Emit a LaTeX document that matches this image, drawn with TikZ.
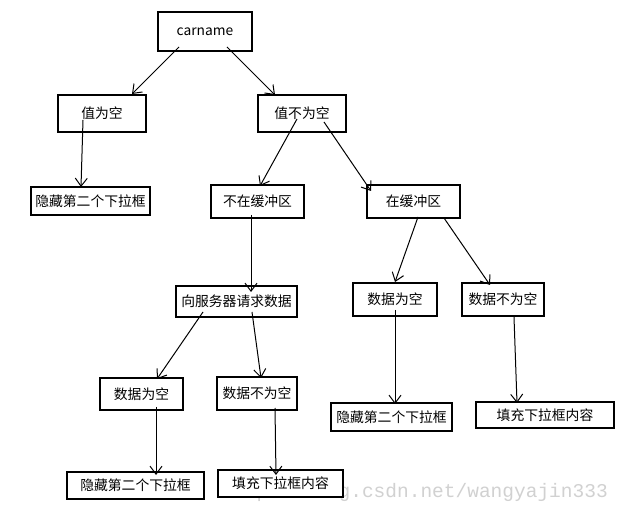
\documentclass[tikz,border=0pt]{standalone}
\usepackage{fontspec}
\newfontfamily\cjk{Noto Sans CJK SC}
\newfontfamily\wmfont{Liberation Mono}
\usetikzlibrary{calc, arrows.meta, positioning}
\tikzset{
  box/.style={draw, line width=1.2pt, fill=white, inner sep=0pt,
    font=\cjk\fontsize{13.8}{15}\selectfont},
  link/.style={line width=1pt, -{Straight Barb[length=8pt,width=12pt]}}
}

\begin{document}
\begin{tikzpicture}[x=1pt, y=-1pt]
    \useasboundingbox[fill=white] (0,0) rectangle (622,513);

    % --- Watermark ---
    \node[anchor=base east, text=black!18, font=\wmfont\fontsize{19.5}{20}\selectfont, inner sep=0pt]
      (mark) at (608,497) {http://blog.csdn.net/wangyajin333};

    % --- Boxes ---
    \node[box, minimum width=94pt, minimum height=39pt] (carname) at (205,31.5) {carname};

    \node[box, minimum width=88pt, minimum height=37pt] (kong) at (102,113.5) {值为空};
    \node[box, minimum width=88pt, minimum height=37pt] (bukong) at (302,113.5) {值不为空};

    \node[box, minimum width=119pt, minimum height=28pt] (hide1) at (90.5,201) {隐藏第二个下拉框};
    \node[box, minimum width=93pt, minimum height=33pt] (notbuf) at (257.5,201.5) {不在缓冲区};
    \node[box, minimum width=93pt, minimum height=33pt] (inbuf) at (413.5,201.5) {在缓冲区};

    \node[box, minimum width=121pt, minimum height=31pt] (request) at (236.5,301.5) {向服务器请求数据};
    \node[box, minimum width=84pt, minimum height=33pt] (nullR) at (395,299.5) {数据为空};
    \node[box, minimum width=82pt, minimum height=33pt] (notnullR) at (503,299.5) {数据不为空};

    \node[box, minimum width=83pt, minimum height=32pt] (nullL) at (141.5,394) {数据为空};
    \node[box, minimum width=80pt, minimum height=33pt] (notnullL) at (257,393.5) {数据不为空};
    \node[box, minimum width=121pt, minimum height=28pt] (hideR) at (391.5,417) {隐藏第二个下拉框};
    \node[box, minimum width=138pt, minimum height=26pt] (fillR) at (545,415) {填充下拉框内容};

    \node[box, minimum width=137pt, minimum height=27pt] (hideL) at (135.5,485.5) {隐藏第二个下拉框};
    \node[box, minimum width=125pt, minimum height=27pt] (fillL) at (280.5,483.5) {填充下拉框内容};

    % --- Arrows ---
    \draw[link] ($(carname)+(-26,15.5)$) -- ($(kong)+(30,-19.5)$);
    \draw[link] ($(carname)+(22,15.5)$) -- ($(bukong)+(-27,-18.5)$);

    \draw[link] ($(kong)+(-19,6.5)$) -- ($(hide1)+(-9.5,-14)$);
    \draw[link] ($(bukong)+(-5,5.5)$) -- ($(notbuf)+(2.5,-15.5)$);
    \draw[link] ($(bukong)+(22,8.5)$) -- ($(inbuf)+(-42.5,-10.5)$);

    \draw[link] ($(notbuf)+(-6.5,13.5)$) -- ($(request)+(14.5,-9.5)$);
    \draw[link] ($(inbuf)+(4.5,15.5)$) -- ($(nullR)+(0,-17.5)$);
    \draw[link] ($(inbuf)+(30.5,16.5)$) -- ($(notnullR)+(-13,-14.5)$);

    \draw[link] ($(request)+(-33.5,10.5)$) -- ($(nullL)+(15.5,-15)$);
    \draw[link] ($(request)+(15.5,10.5)$) -- ($(notnullL)+(4,-15.5)$);

    \draw[link] ($(nullL)+(14.5,13)$) -- ($(hideL)+(20.5,-10.5)$);
    \draw[link] ($(notnullL)+(18,14.5)$) -- ($(fillL)+(-4.5,-8.5)$);
    \draw[link] ($(nullR)+(0,10.5)$) -- ($(hideR)+(3.5,-13)$);
    \draw[link] ($(notnullR)+(11,17.5)$) -- ($(fillR)+(-28,-12)$);
\end{tikzpicture}
\end{document}
